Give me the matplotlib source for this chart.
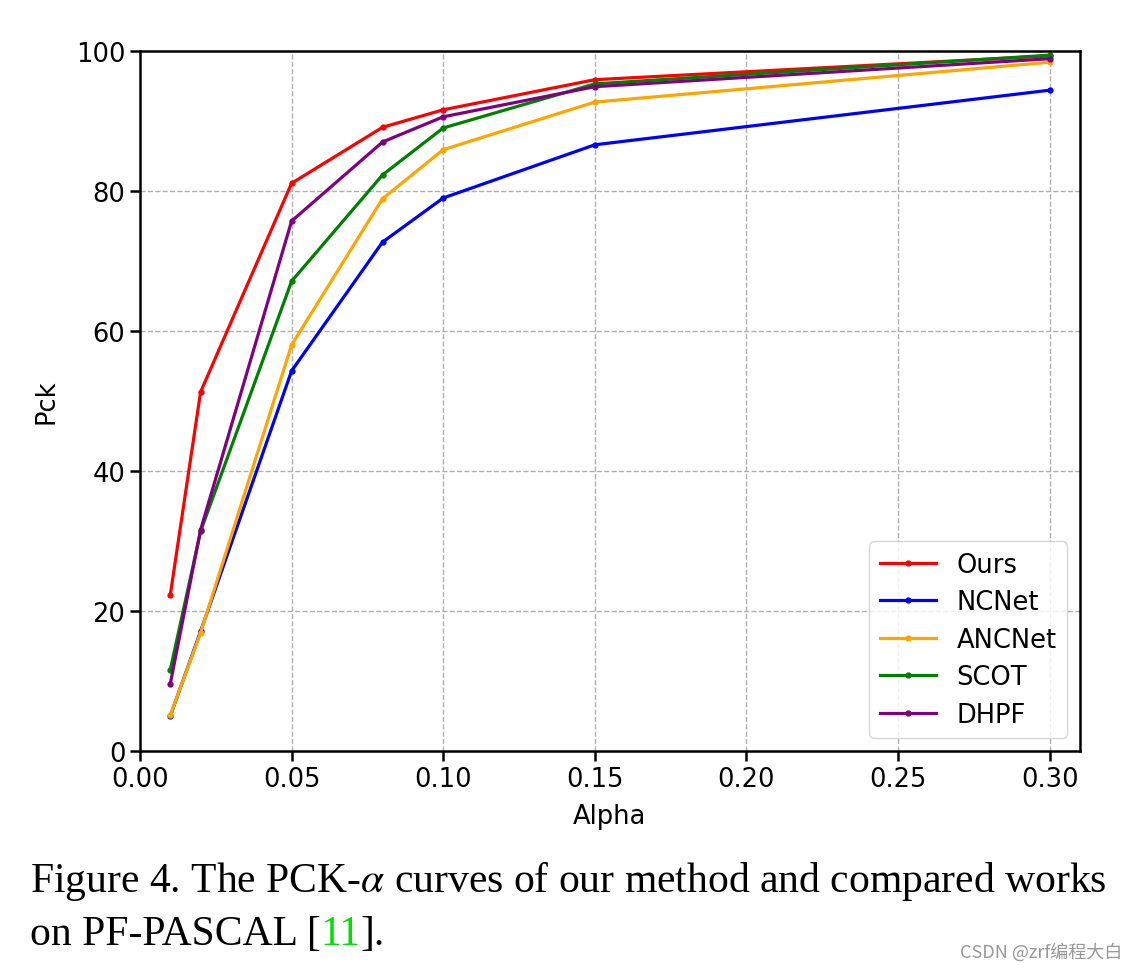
import matplotlib
matplotlib.use("Agg")
import matplotlib.pyplot as plt

alpha = [0.01, 0.02, 0.05, 0.08, 0.10, 0.15, 0.30]
ours = [22.3, 51.3, 81.1, 89.1, 91.6, 95.9, 99.3]
ncnet = [5.0, 17.1, 54.3, 72.7, 79.0, 86.6, 94.4]
ancnet = [5.1, 16.9, 58.0, 78.9, 85.9, 92.7, 98.4]
scot = [11.6, 31.4, 67.1, 82.3, 89.0, 95.3, 99.4]
dhpf = [9.6, 31.6, 75.7, 87.0, 90.6, 94.9, 98.9]

series = [("Ours", ours, "red"), ("NCNet", ncnet, "blue"), ("ANCNet", ancnet, "orange"),
          ("SCOT", scot, "green"), ("DHPF", dhpf, "purple")]
xticks = [0.00, 0.05, 0.10, 0.15, 0.20, 0.25, 0.30]
yticks = [0, 20, 40, 60, 80, 100]

plt.rcParams["mathtext.fontset"] = "stix"
fs = 18.5
fig = plt.figure(figsize=(11.36, 9.70), dpi=100)
ax = fig.add_axes([0.1232, 0.2247, 0.8275, 0.7217])
for name, vals, c in series:
    ax.plot(alpha, vals, color=c, lw=2.3, marker="o", markersize=3.5, label=name)
ax.set_xlim(0, 0.31)
ax.set_ylim(0, 100)
ax.set_xticks(xticks)
ax.set_xticklabels([f"{t:.2f}" for t in xticks])
ax.set_yticks(yticks)
ax.tick_params(labelsize=fs, width=1.8, length=7)
ax.grid(True, ls="--", color="#b0b0b0", lw=1)
for s in ax.spines.values():
    s.set_linewidth(1.8)
ax.set_xlabel("Alpha", fontsize=fs, labelpad=8)
ax.set_ylabel("Pck", fontsize=fs, labelpad=12)
leg = ax.legend(loc="lower right", fontsize=fs, handlelength=2.2, labelspacing=0.45)

# caption
cap_fs = 30
fig.text(30 / 1136, 1 - 892 / 970, r"Figure 4. The PCK-$\alpha$ curves of our method and compared works",
         fontsize=cap_fs, family="Liberation Serif", va="baseline")
renderer = fig.canvas.get_renderer()
x0 = 30 / 1136
yb = 1 - 945 / 970
parts = [("on PF-PASCAL [", "black"), ("11", "#00e000"), ("].", "black")]
for txt, col in parts:
    t = fig.text(x0, yb, txt, fontsize=cap_fs, family="Liberation Serif", va="baseline", color=col)
    bb = t.get_window_extent(renderer=renderer)
    x0 = bb.x1 / fig.bbox.width

fig.text(1122 / 1136, 1 - 958 / 970, "CSDN @zrf编程大白", fontsize=13, color="#999999",
         family=["Noto Sans CJK SC", "DejaVu Sans"], ha="right", va="baseline")

fig.savefig("out.png", dpi=100)
